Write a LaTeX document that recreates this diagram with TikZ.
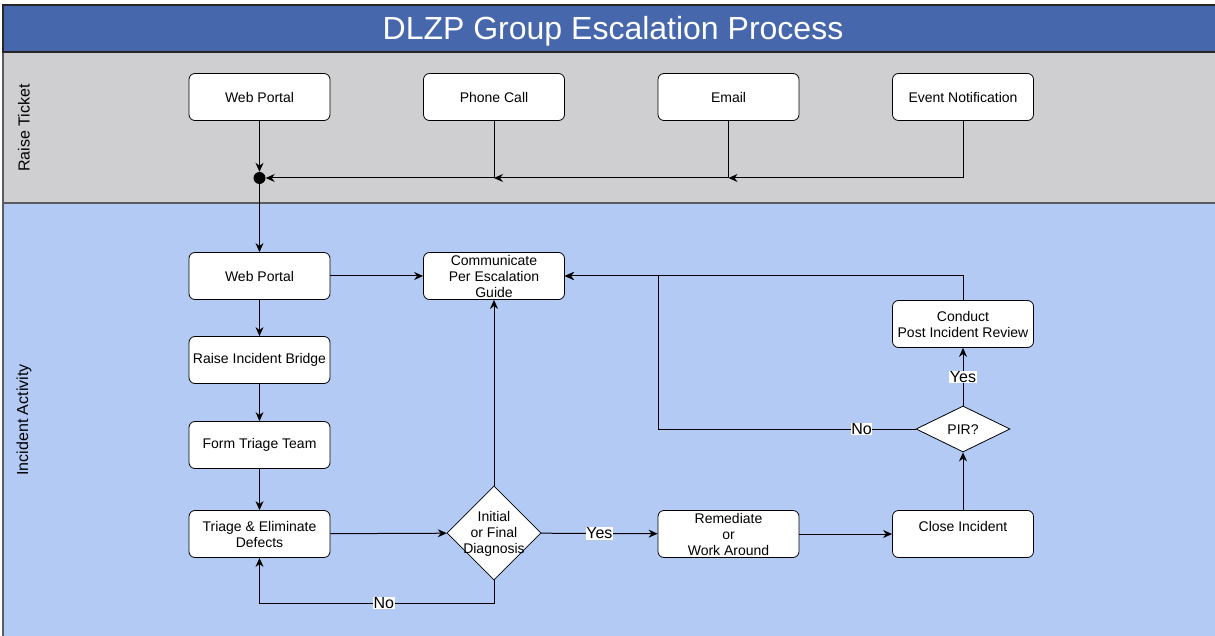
\documentclass[tikz,border=0pt]{standalone}
\usepackage{fontspec}
\setmainfont{Liberation Sans}
\usetikzlibrary{shapes.geometric,arrows.meta}
\definecolor{titleblue}{RGB}{71,103,173}
\definecolor{lanegray}{RGB}{207,207,209}
\definecolor{laneblue}{RGB}{179,202,245}
\definecolor{laneline}{RGB}{90,90,95}

\begin{document}
\begin{tikzpicture}[x=1pt, y=-1pt,
    box/.style={shape=rectangle, rounded corners=6pt, draw, fill=white, line width=0.8pt,
        minimum width=141pt, minimum height=47pt, inner sep=1pt, align=center,
        font=\fontsize{14}{16}\selectfont},
    choice/.style={shape=diamond, draw, fill=white, line width=0.8pt, inner sep=0pt},
    txt/.style={align=center, inner sep=0pt, font=\fontsize{14}{16}\selectfont},
    lbl/.style={fill=white, inner sep=0.5pt, font=\fontsize{16}{18}\selectfont},
    flow/.style={line width=1pt, -{Stealth[length=9pt, width=8pt]}},
    lane/.style={rotate=90, font=\fontsize{16}{18}\selectfont}]

    \clip (0,0) rectangle (1215,636);
    \fill[white] (0,0) rectangle (1215,636);

    % swimlanes
    \draw[fill=laneblue, draw=laneline, line width=1.2pt] (3,203) rectangle (1230,660);
    \draw[fill=lanegray, draw=laneline, line width=1.2pt] (3,52) rectangle (1230,203);
    \draw[fill=titleblue, draw=black!85, line width=1.2pt] (3,5) rectangle (1230,52);
    \node[text=white, font=\fontsize{32}{36}\selectfont] (title) at (613,31.5) {DLZP Group Escalation Process};
    \node[lane] (laneA) at (24,128) {Raise Ticket};
    \node[lane] (laneB) at (24,420) {Incident Activity};

    % raise ticket
    \node[box] (portal) at (259.5,97) {Web Portal};
    \node[box] (phone) at (494,97) {Phone Call};
    \node[box] (email) at (728.5,97) {Email};
    \node[box] (event) at (963,97) {Event Notification};
    \node[circle, fill, inner sep=0pt, minimum size=12pt] (join) at (259.5,178) {};
    \coordinate (jphone) at (phone |- join);
    \coordinate (jemail) at (email |- join);

    % incident activity
    \node[box] (webportal) at (259.5,276) {Web Portal};
    \node[box] (comm) at (494,276) {Communicate\\Per Escalation\\Guide};
    \node[box] (bridge) at (259.5,360) {Raise Incident Bridge};
    \node[box] (team) at (259.5,445) {Form Triage Team};
    \node[box] (defects) at (259.5,534) {Triage \& Eliminate\\Defects};
    \node[choice, minimum width=94pt, minimum height=94pt] (diag) at (494,533) {};
    \node[txt] (diagtext) at (494,534) {Initial\\or Final\\Diagnosis};
    \node[box] (remed) at (728.5,534) {Remediate\\or\\Work Around};
    \node[box] (close) at (963,534) {Close Incident\\\mbox{}};
    \node[choice, minimum width=94pt, minimum height=46pt] (pir) at (963,429) {};
    \node[txt] (pirtext) at (963,430) {PIR?};
    \node[box] (review) at (963,324) {Conduct\\Post Incident Review};
    \coordinate (bend) at (658,429);

    \draw[flow] (portal) -- (join);
    \draw[flow] (event.south) |- (jemail);
    \draw[flow] (email.south) |- (jphone);
    \draw[flow] (phone.south) |- (join);
    \draw[flow] (join) -- (webportal);

    \draw[flow] (webportal) -- (comm);
    \draw[flow] (webportal) -- (bridge);
    \draw[flow] (bridge) -- (team);
    \draw[flow] (team) -- (defects);
    \draw[flow] (defects) -- (diag);
    \draw[flow] (diag) -- node[lbl] (yes1) {Yes} (remed);
    \draw[flow] (diag.south) -- ++(0,23) -| node[lbl, pos=0.235] (no1) {No} (defects.south);
    \draw[flow] (diag) -- (comm);
    \draw[flow] (remed) -- (close);
    \draw[flow] (close) -- (pir);
    \draw[flow] (pir) -- node[lbl] (yes2) {Yes} (review);
    \draw[flow] (pir.west) -- node[lbl, pos=0.21] (no2) {No} (bend) |- (comm.east);
    \draw[flow] (review.north) |- (comm.east);
\end{tikzpicture}
\end{document}
